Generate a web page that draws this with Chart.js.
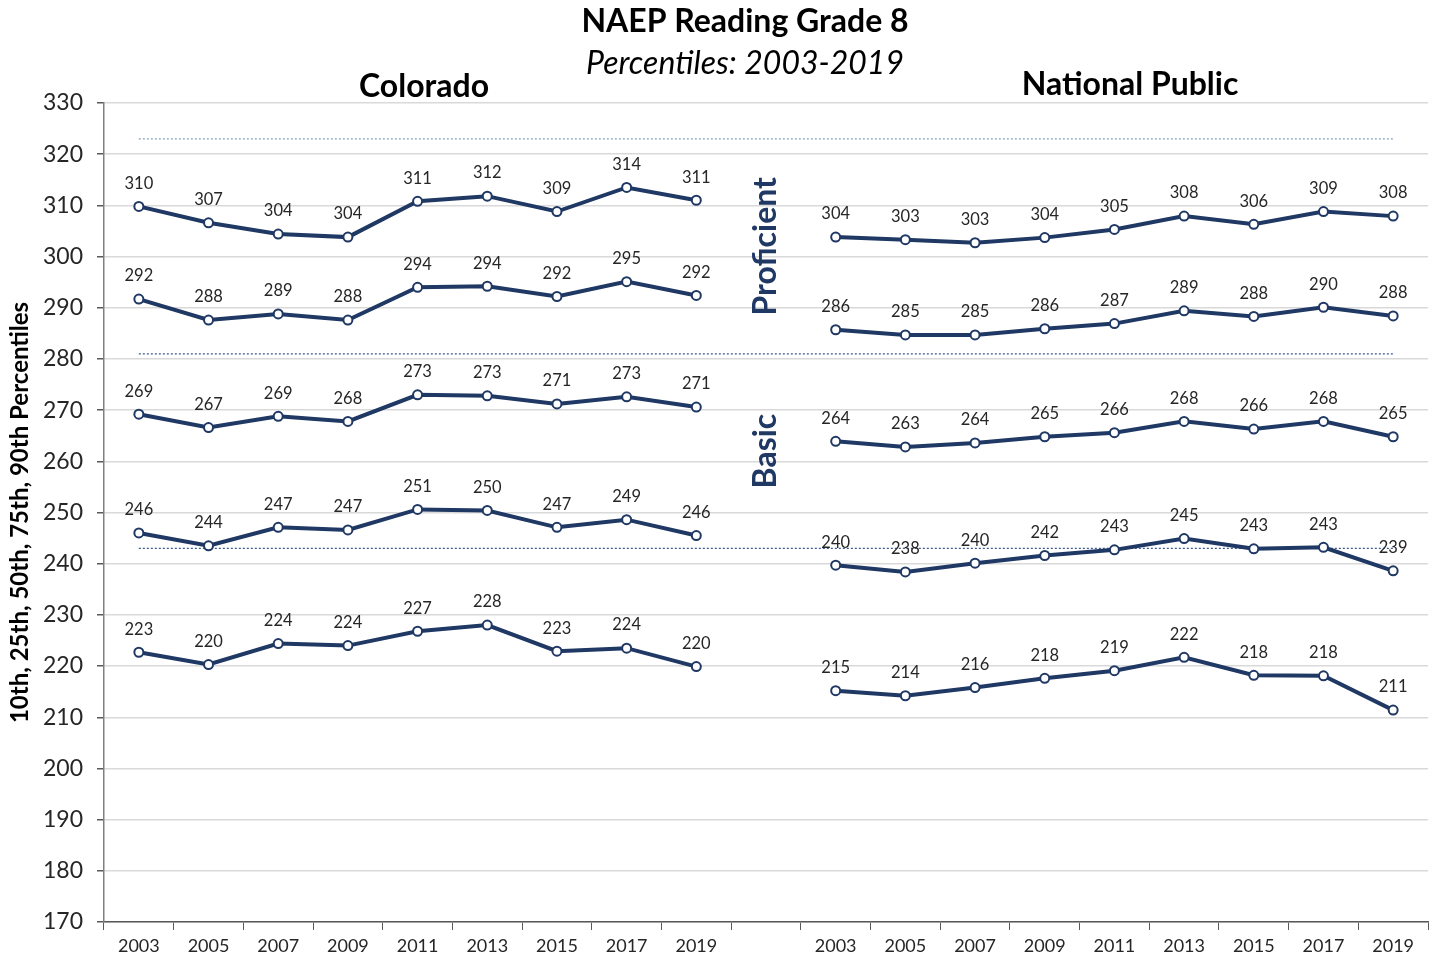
<!DOCTYPE html>
<html lang="en">
<head>
<meta charset="utf-8">
<title>NAEP Reading Grade 8</title>
<script src="https://cdn.jsdelivr.net/npm/chart.js@4.4.1/dist/chart.umd.min.js"></script>
<style>
    html, body { margin: 0; padding: 0; background: #ffffff; }
</style>
</head>
<body>
<canvas id="grafico" width="1435" height="960"></canvas>
<script>
// Años de cada panel
const years = ['2003', '2005', '2007', '2009', '2011', '2013', '2015', '2017', '2019'];

// Colorado: percentiles 90, 75, 50, 25 y 10
const colorado90 = [309.8, 306.6, 304.4, 303.8, 310.8, 311.8, 308.8, 313.5, 311.0];
const colorado75 = [291.7, 287.6, 288.8, 287.6, 294.0, 294.2, 292.2, 295.1, 292.4];
const colorado50 = [269.2, 266.6, 268.8, 267.8, 273.0, 272.8, 271.2, 272.6, 270.6];
const colorado25 = [246.0, 243.5, 247.1, 246.6, 250.6, 250.4, 247.1, 248.6, 245.5];
const colorado10 = [222.7, 220.3, 224.4, 224.0, 226.8, 228.0, 222.9, 223.5, 219.9];

// National Public: percentiles 90, 75, 50, 25 y 10
const national90 = [303.8, 303.3, 302.7, 303.7, 305.3, 307.9, 306.3, 308.8, 307.9];
const national75 = [285.7, 284.7, 284.7, 285.9, 286.9, 289.4, 288.3, 290.1, 288.4];
const national50 = [263.9, 262.8, 263.6, 264.8, 265.6, 267.8, 266.3, 267.8, 264.8];
const national25 = [239.7, 238.4, 240.1, 241.6, 242.7, 244.9, 242.9, 243.2, 238.6];
const national10 = [215.2, 214.2, 215.8, 217.6, 219.1, 221.7, 218.2, 218.1, 211.4];

// Puntos de corte NAEP (Advanced, Proficient, Basic)
const cutScores = [323, 281, 243];
const cutColors = ['#8aa0c0', '#3b5a8c', '#3b5a8c'];

// Eje Y
const yMin = 170;
const yMax = 330;
const yStep = 10;

// Categorías: Colorado, hueco vacío, National Public
const labels = years.concat([''], years);

function unir(a, b) {
    return a.concat([null], b);
}

const navy = '#1f3864';

function serie(a, b) {
    return {
        data: unir(a, b),
        borderColor: navy,
        borderWidth: 4,
        pointRadius: 4.5,
        pointBorderWidth: 2,
        pointBackgroundColor: '#ffffff',
        pointBorderColor: navy,
        spanGaps: false,
        tension: 0
    };
}

const datasets = [
    serie(colorado90, national90),
    serie(colorado75, national75),
    serie(colorado50, national50),
    serie(colorado25, national25),
    serie(colorado10, national10)
];

// Líneas punteadas de los niveles (debajo de las series)
cutScores.forEach(function (v, i) {
    datasets.push({
        corte: true,
        data: new Array(labels.length).fill(v),
        borderColor: cutColors[i],
        borderWidth: 1.2,
        borderDash: [2, 2],
        pointRadius: 0,
        tension: 0
    });
});

// Etiquetas con el valor redondeado encima de cada punto
const etiquetasPlugin = {
    id: 'etiquetas',
    afterDatasetsDraw(chart) {
        const ctx = chart.ctx;
        ctx.save();
        ctx.font = '16.5px Lato';
        ctx.fillStyle = '#262626';
        ctx.textAlign = 'center';
        ctx.textBaseline = 'middle';
        chart.data.datasets.forEach(function (ds, i) {
            if (ds.corte) return;
            chart.getDatasetMeta(i).data.forEach(function (pt, j) {
                const v = ds.data[j];
                if (v === null) return;
                ctx.fillText(Math.round(v), pt.x, pt.y - 23);
            });
        });
        ctx.restore();
    }
};

// Títulos y nombres de los niveles
const textosPlugin = {
    id: 'textos',
    afterDraw(chart) {
        const ctx = chart.ctx;
        const x = chart.scales.x;
        const y = chart.scales.y;
        ctx.save();
        ctx.textAlign = 'center';
        ctx.textBaseline = 'middle';
        ctx.fillStyle = '#000000';

        ctx.font = 'bold 32px Lato';
        ctx.fillText('NAEP Reading Grade 8', 745, 22);
        ctx.font = 'italic 32px Lato';
        ctx.fillText('Percentiles: 2003-2019', 745, 64);
        ctx.font = 'bold 32px Lato';
        ctx.fillText('Colorado', 424, 87);
        ctx.fillText('National Public', 1130, 85);

        // Proficient y Basic en la columna vacía
        const xc = x.getPixelForValue(9);
        ctx.fillStyle = navy;
        ctx.font = 'bold 32px Lato';
        [['Proficient', (cutScores[0] + cutScores[1]) / 2],
         ['Basic', (cutScores[1] + cutScores[2]) / 2]].forEach(function (t) {
            ctx.save();
            ctx.translate(xc, y.getPixelForValue(t[1]));
            ctx.rotate(-Math.PI / 2);
            ctx.fillText(t[0], 0, 0);
            ctx.restore();
        });
        ctx.restore();
    }
};

const config = {
    type: 'line',
    data: {
        labels: labels,
        datasets: datasets
    },
    plugins: [etiquetasPlugin, textosPlugin],
    options: {
        responsive: false,
        animation: false,
        layout: {
            padding: { top: 103, right: 7, left: 0, bottom: 0 }
        },
        plugins: {
            legend: { display: false },
            tooltip: { enabled: false }
        },
        scales: {
            x: {
                type: 'category',
                offset: true,
                grid: {
                    drawOnChartArea: false,
                    offset: true,
                    tickLength: 8,
                    tickColor: '#595959'
                },
                border: { color: '#595959', width: 1.5 },
                ticks: {
                    font: { family: 'Lato', size: 18 },
                    color: '#262626',
                    padding: 5,
                    maxRotation: 0,
                    autoSkip: false
                },
                afterFit: function (s) { s.height = 38; }
            },
            y: {
                min: yMin,
                max: yMax,
                ticks: {
                    stepSize: yStep,
                    font: { family: 'Lato', size: 23 },
                    color: '#262626',
                    padding: 14
                },
                grid: {
                    color: '#d9d9d9',
                    lineWidth: 1.5,
                    tickLength: 7,
                    tickColor: '#595959'
                },
                border: { color: '#7f7f7f', width: 1.5 },
                title: {
                    display: true,
                    text: '10th, 25th, 50th, 75th, 90th Percentiles',
                    font: { family: 'Lato', size: 24, weight: 'bold' },
                    color: '#000000',
                    padding: { top: 6, bottom: 0 }
                },
                afterFit: function (s) { s.width = 104; }
            }
        }
    }
};

new Chart(document.getElementById('grafico').getContext('2d'), config);
</script>
</body>
</html>
